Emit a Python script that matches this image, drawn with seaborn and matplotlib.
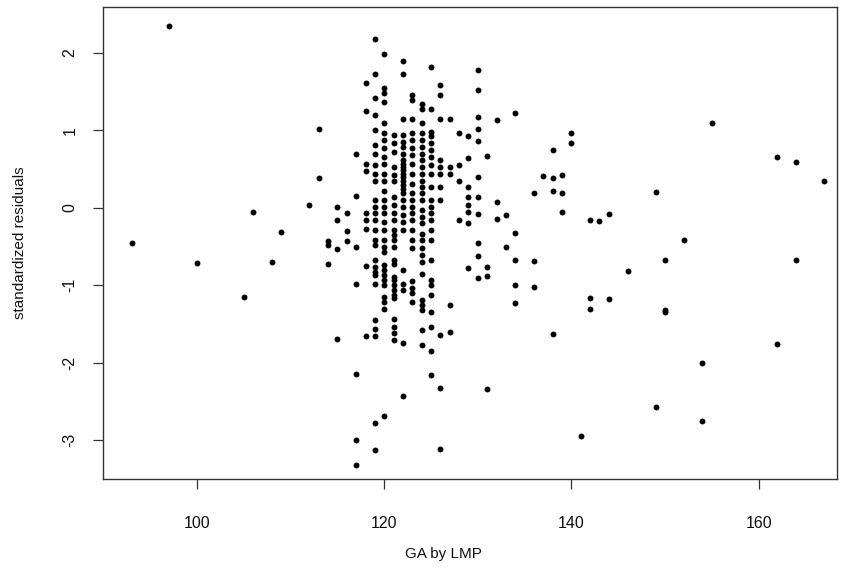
import matplotlib
matplotlib.use("Agg")
import matplotlib.pyplot as plt
import seaborn as sns
import pandas as pd

# Standardized residuals grouped by gestational age (days, by last menstrual period)
resid_early = {
    93: [-0.45],
    97: [2.34],
    100: [-0.71],
    105: [-1.15],
    106: [-0.05],
    108: [-0.70],
    109: [-0.31],
    112: [0.03],
    113: [1.02, 0.39],
    114: [-0.43, -0.48, -0.72],
    115: [0.01, -0.16, -0.53, -1.70],
    116: [-0.07, -0.30, -0.43],
}

resid_core = {
    117: [0.69, 0.15, -0.51, -0.98, -2.14, -3.00, -3.32],
    118: [1.61, 1.25, 0.57, 0.48, -0.07, -0.16, -0.28, -0.75, -1.66],
    119: [2.18, 1.73, 1.41, 1.20, 1.00, 0.81, 0.70, 0.55, 0.44, 0.34, 0.10, 0.01,
          -0.07, -0.16, -0.29, -0.42, -0.48, -0.67, -0.76, -0.83, -0.87, -0.98,
          -1.45, -1.56, -1.66, -2.78, -3.13],
    120: [1.99, 1.54, 1.48, 1.37, 1.09, 0.96, 0.87, 0.77, 0.66, 0.57, 0.44, 0.34,
          0.21, 0.10, 0.01, -0.07, -0.18, -0.29, -0.42, -0.50, -0.57, -0.74, -0.80,
          -0.87, -0.93, -1.00, -1.15, -1.21, -1.31, -2.69],
    121: [0.94, 0.83, 0.72, 0.53, 0.42, 0.34, 0.14, 0.03, -0.07, -0.16, -0.29,
          -0.35, -0.42, -0.50, -0.67, -0.72, -0.89, -0.93, -1.00, -1.06, -1.13,
          -1.17, -1.43, -1.54, -1.62, -1.71],
    122: [1.89, 1.73, 1.14, 0.94, 0.85, 0.79, 0.70, 0.62, 0.57, 0.53, 0.49, 0.44,
          0.40, 0.34, 0.29, 0.24, 0.19, 0.10, 0.01, -0.09, -0.18, -0.29, -0.80,
          -0.98, -1.06, -1.75, -2.43],
    123: [1.45, 1.39, 1.14, 0.96, 0.87, 0.77, 0.68, 0.57, 0.44, 0.31, 0.19, 0.10,
          0.01, -0.07, -0.16, -0.29, -0.42, -0.52, -0.95, -1.04, -1.10, -1.21],
    124: [1.34, 1.28, 1.09, 0.96, 0.87, 0.79, 0.70, 0.62, 0.53, 0.44, 0.34, 0.27,
          0.19, 0.10, -0.03, -0.12, -0.20, -0.34, -0.42, -0.52, -0.61, -0.70,
          -0.85, -1.19, -1.26, -1.32, -1.58, -1.77],
    125: [1.82, 1.28, 0.98, 0.92, 0.83, 0.74, 0.66, 0.55, 0.44, 0.27, 0.10, 0.01,
          -0.07, -0.16, -0.29, -0.42, -0.68, -0.93, -1.00, -1.13, -1.34, -1.54,
          -1.85, -2.16],
    126: [1.58, 1.45, 1.14, 0.62, 0.53, 0.44, 0.27, 0.10, -1.64, -2.32, -3.11],
    127: [1.14, 0.53, 0.44, -1.26, -1.60],
}

resid_late = {
    128: [0.96, 0.55, 0.34, -0.16],
    129: [0.92, 0.64, 0.27, 0.14, 0.03, -0.05, -0.20, -0.78],
    130: [1.78, 1.52, 1.17, 1.01, 0.86, 0.40, 0.14, -0.08, -0.45, -0.62, -0.91],
    131: [0.67, -0.77, -0.88, -2.34],
    132: [1.13, 0.08, -0.15],
    133: [-0.09, -0.51],
    134: [1.22, -0.32, -0.68, -1.00, -1.23],
    136: [0.19, -0.69, -1.02],
    137: [0.41],
    138: [0.74, 0.39, 0.21, -1.63],
    139: [0.42, 0.19, -0.06],
    140: [0.96, 0.84],
    141: [-2.95],
    142: [-0.16, -1.17, -1.30],
    143: [-0.17],
    144: [-0.08, -1.18],
    146: [-0.81],
    149: [0.20, -2.57],
    150: [-0.67, -1.32, -1.35],
    152: [-0.42],
    154: [-2.00, -2.75],
    155: [1.10],
    162: [0.65, -1.76],
    164: [0.59, -0.67],
    167: [0.35],
}

x_ticks = [100, 120, 140, 160]
y_ticks = [-3, -2, -1, 0, 1, 2]

rows = []
for group in (resid_early, resid_core, resid_late):
    for ga, values in group.items():
        for r in values:
            rows.append((ga, r))
df = pd.DataFrame(rows, columns=["ga", "resid"])

sns.set_style("ticks")
plt.rcParams["font.family"] = ["Liberation Sans", "DejaVu Sans"]

fig = plt.figure(figsize=(8.41, 5.86), dpi=100)
ax = fig.add_axes([0.1221, 0.1826, 0.8728, 0.8054])

sns.scatterplot(data=df, x="ga", y="resid", s=18, color="black",
                linewidth=0, ax=ax)

ax.set_xlim(89.91, 168.35)
ax.set_ylim(-3.50, 2.59)
ax.set_xticks(x_ticks)
ax.set_xticklabels([str(t) for t in x_ticks])
ax.set_yticks(y_ticks)
ax.set_yticklabels([str(t) for t in y_ticks], rotation=90, va="center")

for side in ("left", "right", "top", "bottom"):
    ax.spines[side].set_visible(True)
    ax.spines[side].set_color("#333333")
    ax.spines[side].set_linewidth(1.0)

ax.tick_params(axis="both", direction="out", length=7, width=0.9,
               color="#333333", labelsize=11.5, labelcolor="#111111")
ax.tick_params(axis="x", pad=20)
ax.tick_params(axis="y", pad=11)

ax.set_xlabel("GA by LMP", fontsize=11, color="#111111")
ax.set_ylabel("standardized residuals", fontsize=11, color="#111111")
ax.xaxis.set_label_coords(0.4636, -0.145)
ax.yaxis.set_label_coords(-0.103, 0.5)

fig.savefig("out.png", dpi=100, facecolor="white")
